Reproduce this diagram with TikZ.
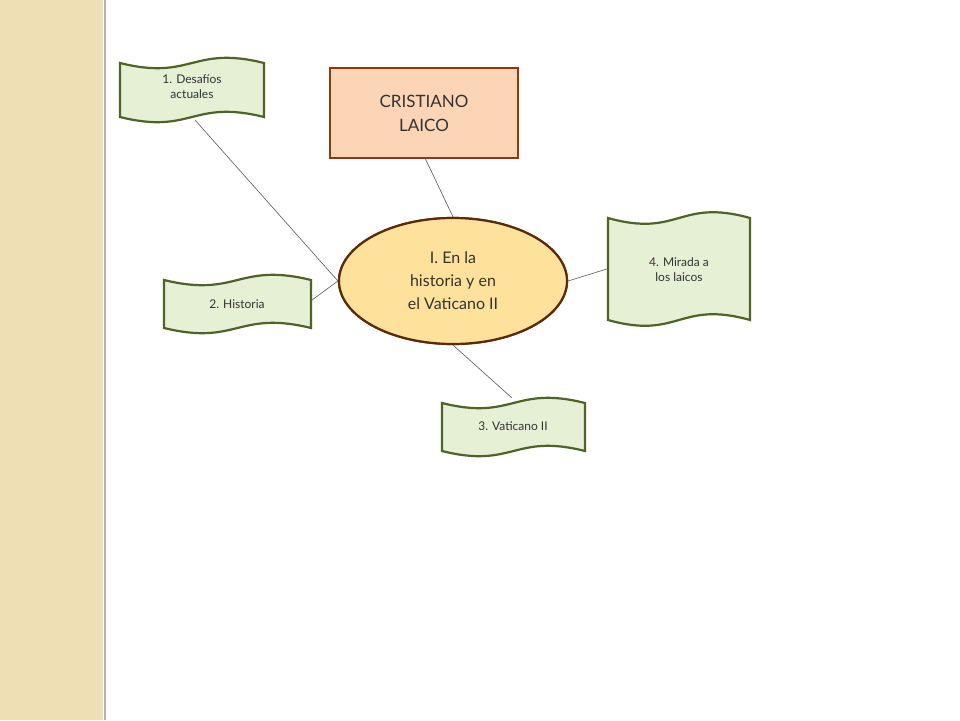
\documentclass[tikz,border=0pt]{standalone}
\usepackage{fontspec}
\setmainfont{Lato}
\usetikzlibrary{shapes.geometric}
\definecolor{strip}{HTML}{EFDFB4}
\definecolor{flagfill}{HTML}{E6F0D4}
\definecolor{flagline}{HTML}{4F6228}
\definecolor{boxfill}{HTML}{FBD5B5}
\definecolor{boxline}{HTML}{8B3A0E}
\definecolor{ellfill}{HTML}{FEE29B}
\definecolor{ellline}{HTML}{5A2A0A}
\tikzset{x=1pt,y=-1pt,
 flag/.style={draw=flagline,fill=flagfill,line width=2.2pt},
 conn/.style={draw=gray!70!black,line width=0.6pt},
 lbl/.style={align=center,font=\fontsize{12}{15}\selectfont,text=black!80}}
\newcommand{\wflag}[5]{% x1 y1 x2 y2 amp
 \path[flag] (#1,#2) .. controls ({(#1+#3)/2},{#2+2*#5}) and ({(#1+#3)/2},{#2-2*#5}) .. (#3,#2)
  -- (#3,#4) .. controls ({(#1+#3)/2},{#4-2*#5}) and ({(#1+#3)/2},{#4+2*#5}) .. (#1,#4) -- cycle;}
\begin{document}
\begin{tikzpicture}
\useasboundingbox (0,0) rectangle (960,720);
\fill[white] (0,0) rectangle (960,720);
\fill[strip] (0,0) rectangle (103,720);
\draw[gray!60,line width=1.5pt] (105,0) -- (105,720);
% connectors
\coordinate (c1) at (195,120);
\coordinate (c2) at (308,303);
\coordinate (c3) at (512,398);
\coordinate (c4) at (610,268);
\coordinate (c5) at (425,158);
\node[ellipse,draw=ellline,fill=ellfill,line width=2.2pt,minimum width=228pt,minimum height=126pt,inner sep=0pt] (e) at (453,281) {};
\draw[conn] (c1) -- (e.west);
\draw[conn] (c2) -- (e.west);
\draw[conn] (c5) -- (e.north);
\draw[conn] (c3) -- (e.south);
\draw[conn] (c4) -- (e.east);
\node[ellipse,draw=ellline,fill=ellfill,line width=2.2pt,minimum width=228pt,minimum height=126pt,inner sep=0pt] (e2) at (453,281) {};
\node[lbl,font=\fontsize{16}{23}\selectfont] (et) at (453,281) {I. En la\\historia y en\\el Vaticano II};
\node[draw=boxline,fill=boxfill,line width=2.2pt,minimum width=188pt,minimum height=90pt,align=center,font=\fontsize{17}{24}\selectfont,text=black!80] (box) at (424,113) {CRISTIANO\\LAICO};
\wflag{120}{63}{264}{117}{9}
\node[lbl] (f1) at (192,87) {1. Desafíos\\actuales};
\wflag{164}{280}{311}{328}{9}
\node[lbl] (f2) at (237,304) {2. Historia};
\wflag{442}{403}{585}{451}{9}
\node[lbl] (f3) at (513,426) {3. Vaticano II};
\wflag{608}{218}{750}{320}{10}
\node[lbl] (f4) at (679,270) {4. Mirada a\\los laicos};
\end{tikzpicture}
\end{document}
